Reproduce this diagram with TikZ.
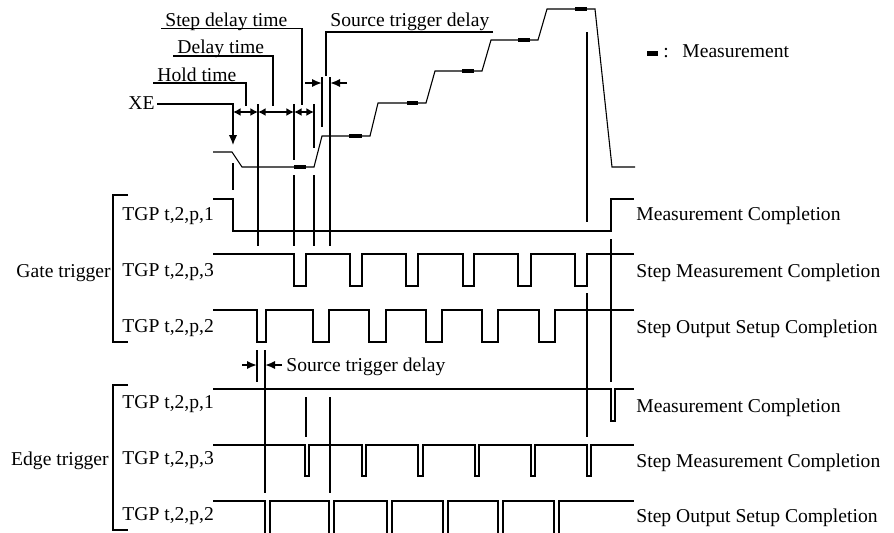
\documentclass[tikz,border=0pt]{standalone}
\usepackage{fontspec}
\setmainfont{Liberation Serif}
\usetikzlibrary{arrows.meta}
\begin{document}
\begin{tikzpicture}[x=0.5pt,y=-0.5pt,
  lbl/.style={font=\fontsize{9.8}{11}\selectfont, inner sep=0pt, anchor=base west},
  rlbl/.style={font=\fontsize{9.8}{11}\selectfont, inner sep=0pt, anchor=base east},
  wave/.style={line width=0.55pt, line join=miter},
  tline/.style={line width=1pt},
  lead/.style={line width=0.55pt},
  brk/.style={line width=0.75pt},
  tip/.style={-{Latex[length=5pt,width=4.2pt]}},
  dim/.style={line width=1pt, {Latex[length=3.8pt,width=4pt]}-{Latex[length=3.8pt,width=4pt]}},
  measmark/.style={fill=black, draw=none},
]
\useasboundingbox (0,0) rectangle (894,532);

% ---------- top annotations ----------
\node[lbl] (sdt) at (165,26) {Step delay time};
\draw[lead] (161,28.5) -- (302,28.5) -- (302,105);
\node[lbl] (dt) at (177,53) {Delay time};
\draw[lead] (173,56) -- (273,56) -- (273,106);
\node[lbl] (ht) at (157,81) {Hold time};
\draw[lead] (153,83) -- (246,83) -- (246,106);
\node[lbl] (xe) at (128,109) {XE};
\draw[lead,tip] (157,104) -- (233,104) -- (233,145);

\node[lbl] (std) at (330,26) {Source trigger delay};
\draw[lead] (493,32) -- (326,32) -- (326,76);

\draw[dim] (233,112) -- (258,112);
\draw[dim] (258,112) -- (294,112);
\draw[dim] (294,112) -- (314,112);

\draw[tline,tip] (305,83) -- (322,83);
\draw[tline,tip] (347,83) -- (330,83);

% legend
\fill[measmark] (647,50.5) rectangle (658,55.5);
\node[lbl] (colon) at (663,57) {:};
\node[lbl] (leg) at (682,57) {Measurement};

% ---------- source waveform ----------
\draw[wave] (213,152) -- (232,152) -- (242,167) -- (314,167) -- (322,136) -- (370,136)
  -- (378,103) -- (426,103) -- (435,71) -- (482,71) -- (491,40) -- (538,40)
  -- (547,9) -- (595,9) -- (612,167) -- (635,167);
\foreach \a/\b/\y in {294/306/167, 349/362/136, 407/418/103, 462/474/71, 518/530/40, 575/587/9}
  \fill[measmark] (\a,\y-2.2) rectangle (\b,\y+2.2);

% ---------- timing lines ----------
\draw[tline] (258,104) -- (258,246);
\draw[tline] (294,104) -- (294,160) (294,175) -- (294,246);
\draw[tline] (314,104) -- (314,148) (314,175) -- (314,246);
\draw[tline] (233,163) -- (233,190);
\draw[tline] (322,77) -- (322,127);
\draw[tline] (330,77) -- (330,246);
\draw[tline] (587,32) -- (587,222) (587,293) -- (587,437);
\draw[tline] (611,239) -- (611,382);
\draw[tline] (257,350) -- (257,382);
\draw[tline] (265,350) -- (265,493);
\draw[tline] (306,397) -- (306,437);
\draw[tline] (330,397) -- (330,493);

% middle source trigger delay
\draw[tline,tip] (242,365) -- (257,365);
\draw[tline,tip] (282,365) -- (265,365);
\node[lbl] (std2) at (286,371) {Source trigger delay};

% ---------- gate trigger ----------
\node[rlbl] (gate) at (111,277) {Gate trigger};
\draw[brk] (128,195) -- (113,195) -- (113,342) -- (128,342);
\node[lbl] (g1) at (122,220) {TGP t,2,p,1};
\node[lbl] (g3) at (122,276) {TGP t,2,p,3};
\node[lbl] (g2) at (122,332) {TGP t,2,p,2};

\draw[wave] (213,199) -- (233,199) -- (233,231) -- (611,231) -- (611,199) -- (634,199);
\draw[wave] (213,254)
  -- (294,254) -- (294,286) -- (306,286) -- (306,254)
  -- (350,254) -- (350,286) -- (362,286) -- (362,254)
  -- (406,254) -- (406,286) -- (418,286) -- (418,254)
  -- (463,254) -- (463,286) -- (474,286) -- (474,254)
  -- (518,254) -- (518,286) -- (531,286) -- (531,254)
  -- (575,254) -- (575,286) -- (587,286) -- (587,254)
  -- (634,254);
\draw[wave] (213,310)
  -- (257,310) -- (257,342) -- (266,342) -- (266,310)
  -- (313,310) -- (313,342) -- (329,342) -- (329,310)
  -- (369,310) -- (369,342) -- (386,342) -- (386,310)
  -- (426,310) -- (426,342) -- (442,342) -- (442,310)
  -- (482,310) -- (482,342) -- (498,342) -- (498,310)
  -- (539,310) -- (539,342) -- (555,342) -- (555,310)
  -- (634,310);

\node[lbl] (gm) at (636,220) {Measurement Completion};
\node[lbl] (gsm) at (636,277) {Step Measurement Completion};
\node[lbl] (gso) at (636,333) {Step Output Setup Completion};

% ---------- edge trigger ----------
\node[rlbl] (edge) at (109,465) {Edge trigger};
\draw[brk] (128,385) -- (113,385) -- (113,530) -- (128,530);
\node[lbl] (e1) at (122,408) {TGP t,2,p,1};
\node[lbl] (e3) at (122,464) {TGP t,2,p,3};
\node[lbl] (e2) at (122,520) {TGP t,2,p,2};

\draw[wave] (213,389) -- (611,389) -- (611,421) -- (615,421) -- (615,389) -- (634,389);
\draw[wave] (213,445)
  -- (305,445) -- (305,476) -- (309,476) -- (309,445)
  -- (362,445) -- (362,476) -- (366,476) -- (366,445)
  -- (418,445) -- (418,476) -- (423,476) -- (423,445)
  -- (475,445) -- (475,476) -- (479,476) -- (479,445)
  -- (531,445) -- (531,476) -- (535,476) -- (535,445)
  -- (587,445) -- (587,476) -- (591,476) -- (591,445)
  -- (634,445);
\draw[wave] (213,501)
  -- (265,501) -- (265,534) (270,534) -- (270,501)
  -- (329,501) -- (329,534) (334,534) -- (334,501)
  -- (387,501) -- (387,534) (392,534) -- (392,501)
  -- (443,501) -- (443,534) (448,534) -- (448,501)
  -- (498,501) -- (498,534) (503,534) -- (503,501)
  -- (554,501) -- (554,534) (559,534) -- (559,501)
  -- (634,501);

\node[lbl] (em) at (636,412) {Measurement Completion};
\node[lbl] (esm) at (636,467) {Step Measurement Completion};
\node[lbl] (eso) at (636,522) {Step Output Setup Completion};
\end{tikzpicture}
\end{document}
